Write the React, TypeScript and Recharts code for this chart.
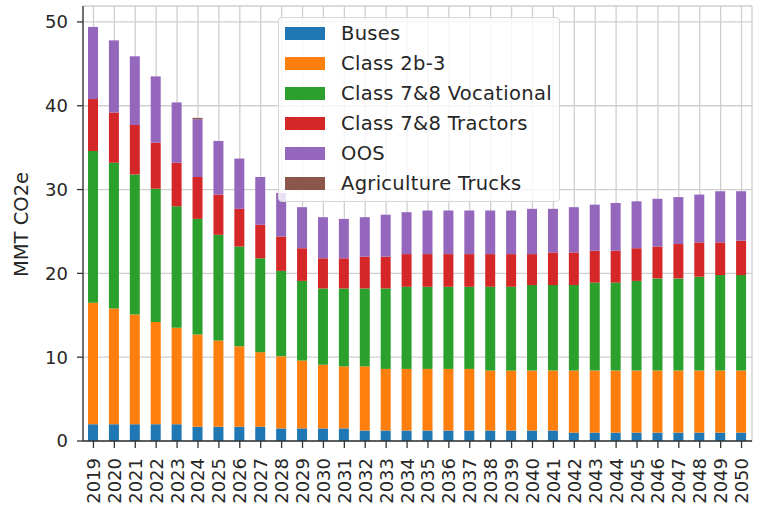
import React from 'react';
import { BarChart, Bar, XAxis, YAxis, CartesianGrid, Legend } from 'recharts';

const years = [
  '2019', '2020', '2021', '2022', '2023', '2024', '2025', '2026', '2027', '2028', '2029',
  '2030', '2031', '2032', '2033', '2034', '2035', '2036', '2037', '2038', '2039', '2040',
  '2041', '2042', '2043', '2044', '2045', '2046', '2047', '2048', '2049', '2050',
];

const buses = [
  2.0, 2.0, 2.0, 2.0, 2.0, 1.7, 1.7, 1.7, 1.7, 1.5, 1.5,
  1.5, 1.5, 1.25, 1.25, 1.25, 1.25, 1.25, 1.25, 1.25, 1.25, 1.25,
  1.25, 1.0, 1.0, 1.0, 1.0, 1.0, 1.0, 1.0, 1.0, 1.0,
];
const class2b3 = [
  14.5, 13.8, 13.1, 12.2, 11.5, 11.0, 10.3, 9.6, 8.9, 8.6, 8.1,
  7.6, 7.4, 7.65, 7.35, 7.35, 7.35, 7.35, 7.35, 7.15, 7.15, 7.15,
  7.15, 7.4, 7.4, 7.4, 7.4, 7.4, 7.4, 7.4, 7.4, 7.4,
];
const vocational = [
  18.1, 17.4, 16.7, 15.9, 14.5, 13.8, 12.6, 11.9, 11.2, 10.2, 9.5,
  9.1, 9.3, 9.3, 9.6, 9.8, 9.8, 9.8, 9.8, 10.0, 10.0, 10.2,
  10.2, 10.2, 10.5, 10.5, 10.7, 11.0, 11.0, 11.2, 11.4, 11.4,
];
const tractors = [
  6.2, 6.0, 5.9, 5.5, 5.2, 5.0, 4.8, 4.5, 4.0, 4.1, 3.9,
  3.6, 3.6, 3.8, 3.8, 3.9, 3.9, 3.9, 3.9, 3.9, 3.9, 3.7,
  3.9, 3.9, 3.8, 3.8, 3.9, 3.8, 4.1, 4.1, 3.9, 4.1,
];
const oos = [
  8.6, 8.6, 8.2, 7.9, 7.2, 6.9, 6.4, 6.0, 5.7, 5.2, 4.9,
  4.9, 4.7, 4.7, 5.0, 5.0, 5.2, 5.2, 5.2, 5.2, 5.2, 5.4,
  5.2, 5.4, 5.5, 5.7, 5.6, 5.7, 5.6, 5.7, 6.1, 5.9,
];
const agriculture = [
  0, 0, 0, 0, 0, 0.15, 0, 0, 0, 0, 0,
  0, 0, 0, 0, 0, 0, 0, 0, 0, 0, 0,
  0, 0, 0, 0, 0, 0, 0, 0, 0, 0,
];

const yTicks = [0, 10, 20, 30, 40, 50];

const series = [
  { key: 'buses', name: 'Buses', color: '#1f77b4' },
  { key: 'class2b3', name: 'Class 2b-3', color: '#ff7f0e' },
  { key: 'vocational', name: 'Class 7&8 Vocational', color: '#2ca02c' },
  { key: 'tractors', name: 'Class 7&8 Tractors', color: '#d62728' },
  { key: 'oos', name: 'OOS', color: '#9467bd' },
  { key: 'agriculture', name: 'Agriculture Trucks', color: '#8c564b' },
];

const data = years.map((year, i) => ({
  year,
  buses: buses[i],
  class2b3: class2b3[i],
  vocational: vocational[i],
  tractors: tractors[i],
  oos: oos[i],
  agriculture: agriculture[i],
}));

const FONT = '"DejaVu Sans", sans-serif';
const SPINE = '#333';
const TEXT = '#262626';

const YearTick = (props: any) => {
  const { x, y, payload } = props;
  return (
    <g transform={`translate(${x},${y})`}>
      <text
        transform="rotate(-90)"
        x={-10}
        y={0}
        dy="0.36em"
        textAnchor="end"
        fontSize={18}
        fontFamily={FONT}
        fill={TEXT}
      >
        {payload.value}
      </text>
    </g>
  );
};

const LegendBox = () => (
  <div
    style={{
      width: 282,
      height: 185,
      background: 'rgba(255,255,255,0.8)',
      border: '1px solid #d6d6d6',
      borderRadius: 4,
      boxSizing: 'border-box',
      fontFamily: FONT,
      fontSize: 19.5,
      letterSpacing: 0.3,
      color: TEXT,
    }}
  >
    {series.map((s) => (
      <div key={s.key} style={{ display: 'flex', alignItems: 'center', height: 30 }}>
        <span
          style={{
            display: 'inline-block',
            width: 40,
            height: 13,
            marginLeft: 6,
            marginRight: 16,
            background: s.color,
          }}
        />
        <span style={{ whiteSpace: 'nowrap' }}>{s.name}</span>
      </div>
    ))}
  </div>
);

export default function App() {
  return (
    <div style={{ position: 'absolute', left: 0, top: 0, width: 758, height: 510, background: '#fff' }}>
      <BarChart
        width={758}
        height={510}
        data={data}
        margin={{ top: 6, right: 6, bottom: 0, left: 0 }}
        barSize={10}
      >
        <CartesianGrid stroke="#cfcfcf" strokeWidth={1.3} />
        <XAxis
          dataKey="year"
          interval={0}
          height={69}
          tick={<YearTick />}
          tickSize={7}
          tickMargin={0}
          axisLine={{ stroke: SPINE, strokeWidth: 1.3 }}
          tickLine={{ stroke: SPINE, strokeWidth: 1.3 }}
        />
        <XAxis
          xAxisId="top"
          dataKey="year"
          orientation="top"
          height={0}
          tick={false}
          tickLine={false}
          axisLine={{ stroke: SPINE, strokeWidth: 1.3 }}
        />
        <YAxis
          width={83}
          domain={[0, 51.9]}
          ticks={yTicks}
          tickSize={6}
          tickMargin={9}
          tick={{ fontSize: 18, fontFamily: FONT, fill: TEXT }}
          axisLine={{ stroke: SPINE, strokeWidth: 1.3 }}
          tickLine={{ stroke: SPINE, strokeWidth: 1.3 }}
          label={{
            content: ({ viewBox }: any) => {
              const cx = viewBox.x + 21;
              const cy = viewBox.y + viewBox.height / 2 + 1;
              return (
                <text
                  x={cx}
                  y={cy}
                  transform={`rotate(-90, ${cx}, ${cy})`}
                  textAnchor="middle"
                  dominantBaseline="central"
                  fontSize={19.5}
                  fontFamily={FONT}
                  fill={TEXT}
                >
                  MMT CO2e
                </text>
              );
            },
          }}
        />
        <YAxis
          yAxisId="right"
          orientation="right"
          width={0}
          domain={[0, 51.9]}
          tick={false}
          tickLine={false}
          axisLine={{ stroke: SPINE, strokeWidth: 1.3 }}
        />
        {series.map((s) => (
          <Bar
            key={s.key}
            dataKey={s.key}
            name={s.name}
            stackId="a"
            fill={s.color}
            isAnimationActive={false}
          />
        ))}
        <Legend
          layout="vertical"
          align="center"
          verticalAlign="middle"
          content={<LegendBox />}
          wrapperStyle={{ left: 278, top: 17, width: 282, height: 185 }}
        />
      </BarChart>
    </div>
  );
}
